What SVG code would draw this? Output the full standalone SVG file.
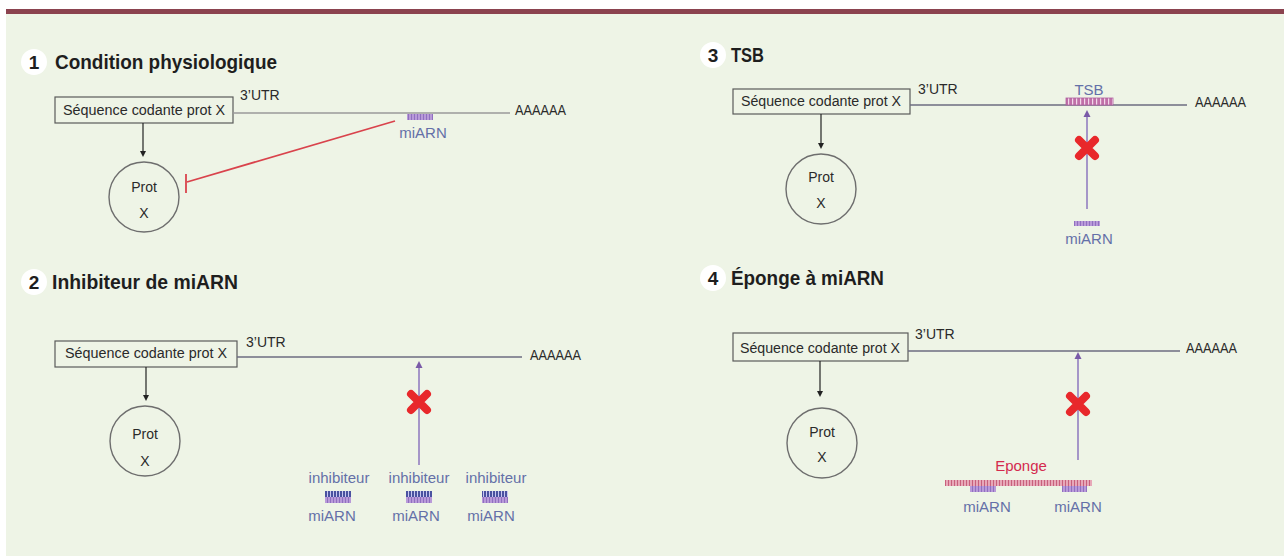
<svg xmlns="http://www.w3.org/2000/svg" width="1284" height="556" viewBox="0 0 1284 556">
<defs>
<style>
.t{font-family:"Liberation Sans",Arial,sans-serif;font-size:14px;fill:#2a2a2a}
.c{text-anchor:middle}
.title{font-family:"Liberation Sans",Arial,sans-serif;font-weight:bold;font-size:21px;fill:#1e1e1e}
.num{font-family:"Liberation Sans",Arial,sans-serif;font-weight:bold;font-size:19px;fill:#1e1e1e;text-anchor:middle}
.lbl{font-family:"Liberation Sans",Arial,sans-serif;font-size:15px;fill:#6470a8;text-anchor:middle}
.box{fill:none;stroke:#5a5a5a;stroke-width:1.2}
.circ{fill:none;stroke:#6e6e6e;stroke-width:1.4}
.mrna{stroke:#6d6c80;stroke-width:1.5;fill:none}
.arr{stroke:#222;stroke-width:1.2;fill:none}
.parr{stroke:#a596c8;stroke-width:2;fill:none}
.x{stroke:#e8282b;stroke-width:8;stroke-linecap:round}
</style>
<pattern id="pm" width="3" height="10" patternUnits="userSpaceOnUse"><rect width="3" height="10" fill="#b99ad9"/><rect width="1" height="10" fill="#9070c0"/></pattern>
<pattern id="pb" width="3" height="10" patternUnits="userSpaceOnUse"><rect width="3" height="10" fill="#4a52a0"/><rect width="1" height="10" fill="#c8c8f0"/></pattern>
<pattern id="pt" width="4" height="10" patternUnits="userSpaceOnUse"><rect width="4" height="10" fill="#c070a8"/><rect width="1.2" height="10" fill="#f2d8ea"/></pattern>
<pattern id="ps" width="3" height="10" patternUnits="userSpaceOnUse"><rect width="3" height="10" fill="#e7a8b8"/><rect width="1" height="10" fill="#c8607c"/></pattern>
</defs>
<rect x="0" y="0" width="1284" height="556" fill="#ffffff"/>
<rect x="6" y="14" width="1278" height="542" fill="#eef4e6"/>
<rect x="6" y="9" width="1278" height="5" fill="#8b434f"/>

<g id="panel1">
<circle cx="34" cy="62" r="13" fill="#fff"/><text class="num" x="34" y="69">1</text>
<text class="title" x="55" y="69" textLength="222" lengthAdjust="spacingAndGlyphs">Condition physiologique</text>
</g>
<g id="box1"><rect class="box" x="55" y="97" width="178" height="26"/><text class="t c" x="144" y="115" textLength="162" lengthAdjust="spacingAndGlyphs">Séquence codante prot X</text></g>
<g id="mrna1"><line x1="233" y1="113" x2="510" y2="113" stroke="#9a9a9a" stroke-width="1.6"/><text class="t" x="240" y="100">3’UTR</text><text class="t" x="515" y="115" textLength="51" lengthAdjust="spacingAndGlyphs">AAAAAA</text></g>
<g id="mir1"><rect x="407" y="114" width="26" height="6" fill="url(#pm)"/><text class="lbl" x="423" y="138">miARN</text></g>
<g id="prot1"><circle class="circ" cx="144" cy="197" r="35"/><text class="t c" x="144" y="192">Prot</text><text class="t c" x="144" y="218">X</text></g>

<g id="panel2">
<circle cx="34" cy="282" r="13" fill="#fff"/><text class="num" x="34" y="289">2</text>
<text class="title" x="52" y="289" textLength="186" lengthAdjust="spacingAndGlyphs">Inhibiteur de miARN</text>
</g>
<g id="box2"><rect class="box" x="55" y="341" width="182" height="26"/><text class="t c" x="146" y="358" textLength="162" lengthAdjust="spacingAndGlyphs">Séquence codante prot X</text></g>
<g id="mrna2"><line class="mrna" x1="237" y1="357" x2="522" y2="357"/><text class="t" x="246" y="347">3’UTR</text><text class="t" x="530" y="360" textLength="51" lengthAdjust="spacingAndGlyphs">AAAAAA</text></g>
<g id="prot2"><circle class="circ" cx="145" cy="441" r="35"/><text class="t c" x="145" y="439">Prot</text><text class="t c" x="145" y="466">X</text></g>
<g id="inh2">
<text class="lbl" x="339" y="483">inhibiteur</text><rect x="325" y="491" width="26" height="6" fill="url(#pb)"/><rect x="325" y="497" width="26" height="6" fill="url(#pm)"/><text class="lbl" x="332" y="521">miARN</text>
<text class="lbl" x="419" y="483">inhibiteur</text><rect x="406" y="491" width="26" height="6" fill="url(#pb)"/><rect x="406" y="497" width="26" height="6" fill="url(#pm)"/><text class="lbl" x="416" y="521">miARN</text>
<text class="lbl" x="496" y="483">inhibiteur</text><rect x="482" y="491" width="26" height="6" fill="url(#pb)"/><rect x="482" y="497" width="26" height="6" fill="url(#pm)"/><text class="lbl" x="491" y="521">miARN</text>
</g>

<g id="panel3">
<circle cx="713" cy="55" r="13" fill="#fff"/><text class="num" x="713" y="62">3</text>
<text class="title" x="731" y="62" textLength="33" lengthAdjust="spacingAndGlyphs">TSB</text>
</g>
<g id="box3"><rect class="box" x="733" y="89" width="177" height="25"/><text class="t c" x="821" y="106" textLength="160" lengthAdjust="spacingAndGlyphs">Séquence codante prot X</text></g>
<g id="mrna3"><line class="mrna" x1="910" y1="105" x2="1187" y2="105"/><text class="t" x="918" y="94">3’UTR</text><text class="t" x="1195" y="107" textLength="51" lengthAdjust="spacingAndGlyphs">AAAAAA</text></g>
<g id="tsb3"><rect x="1066" y="98" width="47" height="7" fill="url(#pt)" stroke="#b060a0" stroke-width="0.8"/><text class="lbl" x="1089" y="95">TSB</text></g>
<g id="mir3"><rect x="1074" y="221" width="26" height="5" fill="url(#pm)"/><text class="lbl" x="1089" y="244">miARN</text></g>
<g id="prot3"><circle class="circ" cx="821" cy="189" r="35"/><text class="t c" x="821" y="182">Prot</text><text class="t c" x="821" y="208">X</text></g>

<g id="panel4">
<circle cx="713" cy="278" r="13" fill="#fff"/><text class="num" x="713" y="285">4</text>
<text class="title" x="731" y="285" textLength="153" lengthAdjust="spacingAndGlyphs">Éponge à miARN</text>
</g>
<g id="box4"><rect class="box" x="733" y="333" width="175" height="28"/><text class="t c" x="820" y="353" textLength="160" lengthAdjust="spacingAndGlyphs">Séquence codante prot X</text></g>
<g id="mrna4"><line class="mrna" x1="908" y1="351" x2="1180" y2="351"/><text class="t" x="915" y="339">3’UTR</text><text class="t" x="1186" y="353" textLength="51" lengthAdjust="spacingAndGlyphs">AAAAAA</text></g>
<g id="prot4"><circle class="circ" cx="822" cy="443" r="35"/><text class="t c" x="822" y="437">Prot</text><text class="t c" x="822" y="462">X</text></g>
<g id="sponge4">
<text x="1021" y="471" font-family="'Liberation Sans',Arial,sans-serif" font-size="15" fill="#d42a4e" text-anchor="middle">Eponge</text>
<rect x="945" y="480" width="147" height="6" fill="url(#ps)"/>
<rect x="970" y="486" width="26" height="6" fill="url(#pm)"/>
<rect x="1062" y="486" width="25" height="6" fill="url(#pm)"/>
<text class="lbl" x="987" y="512">miARN</text><text class="lbl" x="1078" y="512">miARN</text>
</g>

<g id="connectors">
<line class="arr" x1="143" y1="123" x2="143" y2="152"/><path d="M143,157 L140,151 L146,151 Z" fill="#222"/>
<line x1="395" y1="121" x2="187" y2="182" stroke="#d9434c" stroke-width="1.8"/>
<line x1="186" y1="174" x2="186" y2="193" stroke="#d9434c" stroke-width="1.8"/>
<line class="arr" x1="146" y1="367" x2="146" y2="396"/><path d="M146,401 L143,395 L149,395 Z" fill="#222"/>
<line class="parr" x1="419" y1="465" x2="419" y2="366"/><path d="M419,361 L415.5,368 L422.5,368 Z" fill="#7a5aa8"/>
<line class="arr" x1="821" y1="114" x2="821" y2="144"/><path d="M821,149 L818,143 L824,143 Z" fill="#222"/>
<line class="parr" x1="1087" y1="209" x2="1087" y2="115"/><path d="M1087,110 L1083.5,117 L1090.5,117 Z" fill="#7a5aa8"/>
<line class="arr" x1="820" y1="361" x2="820" y2="392"/><path d="M820,397 L817,391 L823,391 Z" fill="#222"/>
<line class="parr" x1="1078" y1="460" x2="1078" y2="357"/><path d="M1078,352 L1074.5,359 L1081.5,359 Z" fill="#7a5aa8"/>
<g id="blocks">
<path class="x" d="M411,394 L427,410 M427,394 L411,410"/>
<path class="x" d="M1079,140 L1095,156 M1095,140 L1079,156"/>
<path class="x" d="M1070,396 L1086,412 M1086,396 L1070,412"/>
</g>
</g>
</svg>
